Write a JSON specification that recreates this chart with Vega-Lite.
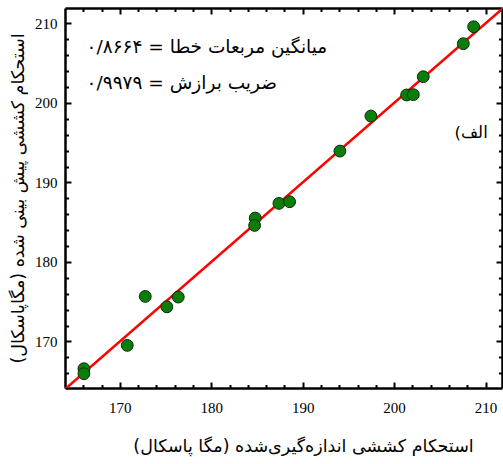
{
  "$schema": "https://vega.github.io/schema/vega-lite/v6.json",
  "width": 437,
  "height": 380,
  "autosize": {"type": "none"},
  "padding": {"left": 65, "top": 8, "right": 1, "bottom": 76},
  "background": "white",
  "config": {"view": {"stroke": null}},
  "datasets": {
    "pts": [
      {"measured": 166.07, "predicted": 166.57},
      {"measured": 166.07, "predicted": 165.94},
      {"measured": 170.81, "predicted": 169.5},
      {"measured": 172.78, "predicted": 175.66},
      {"measured": 175.14, "predicted": 174.35},
      {"measured": 176.39, "predicted": 175.58},
      {"measured": 184.81, "predicted": 185.52},
      {"measured": 184.74, "predicted": 184.59},
      {"measured": 187.4, "predicted": 187.36},
      {"measured": 188.57, "predicted": 187.57},
      {"measured": 194.07, "predicted": 193.94},
      {"measured": 197.46, "predicted": 198.35},
      {"measured": 201.37, "predicted": 201.0},
      {"measured": 202.1, "predicted": 201.04},
      {"measured": 203.19, "predicted": 203.3},
      {"measured": 207.57, "predicted": 207.45},
      {"measured": 208.7, "predicted": 209.58}
    ],
    "fit": [
      {"measured": 164, "predicted": 164},
      {"measured": 212, "predicted": 212}
    ],
    "notesLeft": [
      {"measured": 166.36, "predicted": 207.07, "text": "۰/۸۶۶۴ = میانگین مربعات خطا"},
      {"measured": 166.36, "predicted": 202.5, "text": "۰/۹۹۷۹ = ضریب برازش"}
    ],
    "notesRight": [
      {"measured": 210.24, "predicted": 196.25, "text": "الف)‏"}
    ]
  },
  "layer": [
    {
      "data": {"name": "fit"},
      "mark": {"type": "line", "color": "#ff0000", "strokeWidth": 2.6, "clip": true},
      "encoding": {
        "x": {"field": "measured", "type": "quantitative",
          "scale": {"domain": [164.0, 211.8], "nice": false, "zero": false},
          "axis": {"orient": "top", "values": [166,168,170,172,174,176,178,180,182,184,186,188,190,192,194,196,198,200,202,204,206,208,210],
            "labels": false, "title": null, "grid": false,
            "tickSize": {"condition": {"test": "datum.value % 10 === 0", "value": -6}, "value": -3.5},
            "tickWidth": 2, "tickColor": "black", "domainColor": "black", "domainWidth": 2.5}},
        "y": {"field": "predicted", "type": "quantitative",
          "scale": {"domain": [164.14, 211.94], "nice": false, "zero": false},
          "axis": {"orient": "right", "values": [166,168,170,172,174,176,178,180,182,184,186,188,190,192,194,196,198,200,202,204,206,208,210],
            "labels": false, "title": null, "grid": false,
            "tickSize": {"condition": {"test": "datum.value % 10 === 0", "value": -6}, "value": -3.5},
            "tickWidth": 2, "tickColor": "black", "domainColor": "black", "domainWidth": 2.5}}
      }
    },
    {
      "data": {"name": "pts"},
      "mark": {"type": "point", "filled": true, "fill": "#0b7d0b", "stroke": "#0a2a0a", "strokeWidth": 1, "size": 140, "opacity": 1},
      "encoding": {
        "x": {"field": "measured", "type": "quantitative",
          "axis": {"orient": "bottom", "values": [166,168,170,172,174,176,178,180,182,184,186,188,190,192,194,196,198,200,202,204,206,208,210],
            "labelExpr": "datum.value % 10 === 0 ? datum.label : ''", "labelOverlap": false,
            "labelFont": "Liberation Serif", "labelFontSize": 15, "labelColor": "black", "labelPadding": 18,
            "grid": false,
            "tickSize": {"condition": {"test": "datum.value % 10 === 0", "value": -6}, "value": -3.5},
            "tickWidth": 2, "tickColor": "black", "domainColor": "black", "domainWidth": 2.5,
            "title": "استحکام کششی اندازه‌گیری‌شده (مگا پاسکال)‏",
            "titleX": 238,
            "titleFont": "DejaVu Sans", "titleFontSize": 17.5, "titleFontWeight": "normal", "titleColor": "black", "titlePadding": 20}},
        "y": {"field": "predicted", "type": "quantitative",
          "axis": {"orient": "left", "values": [166,168,170,172,174,176,178,180,182,184,186,188,190,192,194,196,198,200,202,204,206,208,210],
            "labelExpr": "datum.value % 10 === 0 ? datum.label : ''", "labelOverlap": false,
            "labelFont": "Liberation Serif", "labelFontSize": 15, "labelColor": "black", "labelPadding": 14,
            "grid": false,
            "tickSize": {"condition": {"test": "datum.value % 10 === 0", "value": -6}, "value": -3.5},
            "tickWidth": 2, "tickColor": "black", "domainColor": "black", "domainWidth": 2.5,
            "title": "استحکام کششی پیش بینی شده (مگاپاسکال)‏",
            "titleFont": "DejaVu Sans", "titleFontSize": 17.5, "titleFontWeight": "normal", "titleColor": "black", "titlePadding": 7}}
      }
    },
    {
      "data": {"name": "notesLeft"},
      "mark": {"type": "text", "font": "DejaVu Sans", "fontSize": 18.5, "color": "black", "baseline": "middle", "align": "left"},
      "encoding": {
        "x": {"field": "measured", "type": "quantitative", "axis": null},
        "y": {"field": "predicted", "type": "quantitative", "axis": null},
        "text": {"field": "text"}
      }
    },
    {
      "data": {"name": "notesRight"},
      "mark": {"type": "text", "font": "DejaVu Sans", "fontSize": 16.5, "color": "black", "baseline": "middle", "align": "right"},
      "encoding": {
        "x": {"field": "measured", "type": "quantitative", "axis": null},
        "y": {"field": "predicted", "type": "quantitative", "axis": null},
        "text": {"field": "text"}
      }
    }
  ],
  "resolve": {"axis": {"x": "independent", "y": "independent"}}
}
